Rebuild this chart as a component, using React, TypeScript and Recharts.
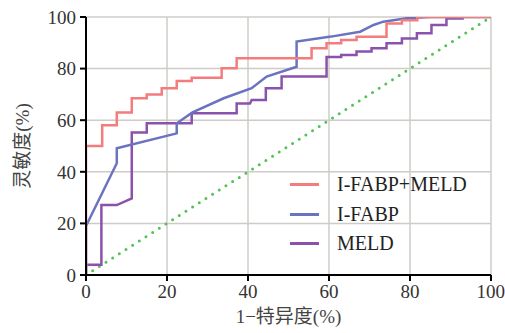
import { CartesianGrid, Legend, Line, LineChart, XAxis, YAxis } from "recharts";

type Pt = { x: number; y: number };

// ROC curve points (1-specificity %, sensitivity %)
const combinedRoc: Pt[] = [
  { x: 0, y: 0 }, { x: 0, y: 50 }, { x: 4, y: 50 }, { x: 4, y: 58 },
  { x: 7.6, y: 58 }, { x: 7.6, y: 63 }, { x: 11.3, y: 63 }, { x: 11.3, y: 68.5 },
  { x: 15, y: 68.5 }, { x: 15, y: 70 }, { x: 18.7, y: 70 }, { x: 18.7, y: 72.4 },
  { x: 22.4, y: 72.4 }, { x: 22.4, y: 75.2 }, { x: 26.1, y: 75.2 }, { x: 26.1, y: 76.5 },
  { x: 33.5, y: 76.5 }, { x: 33.5, y: 80.1 }, { x: 37.2, y: 80.1 }, { x: 37.2, y: 84 },
  { x: 55.7, y: 84 }, { x: 55.7, y: 87.9 }, { x: 59.4, y: 87.9 }, { x: 59.4, y: 89.8 },
  { x: 63, y: 89.8 }, { x: 63, y: 91.1 }, { x: 66.8, y: 91.1 }, { x: 66.8, y: 92.3 },
  { x: 74.2, y: 92.3 }, { x: 74.2, y: 97.5 }, { x: 78, y: 97.5 }, { x: 78, y: 98.7 },
  { x: 81.8, y: 98.7 }, { x: 81.8, y: 100 }, { x: 100, y: 100 },
];

const ifabpRoc: Pt[] = [
  { x: 0, y: 0 }, { x: 0, y: 19 }, { x: 7.6, y: 43.3 }, { x: 7.6, y: 49.1 },
  { x: 22.4, y: 54.9 }, { x: 22.4, y: 58.8 }, { x: 26.3, y: 63 }, { x: 34, y: 68.5 },
  { x: 40.9, y: 72.4 }, { x: 44.6, y: 76.9 }, { x: 52, y: 80.7 }, { x: 52, y: 90.5 },
  { x: 60.5, y: 92.4 }, { x: 67.7, y: 94.3 }, { x: 71, y: 96.9 }, { x: 73.4, y: 98.2 },
  { x: 79.2, y: 99.5 }, { x: 85, y: 100 }, { x: 100, y: 100 },
];

const meldRoc: Pt[] = [
  { x: 0, y: 0 }, { x: 0, y: 4 }, { x: 3.8, y: 4 }, { x: 3.8, y: 27.1 },
  { x: 7.6, y: 27.1 }, { x: 11.3, y: 29.7 }, { x: 11.3, y: 55.2 }, { x: 15, y: 55.2 },
  { x: 15, y: 58.8 }, { x: 26.1, y: 58.8 }, { x: 26.1, y: 62.7 }, { x: 37.2, y: 62.7 },
  { x: 37.2, y: 66.5 }, { x: 40.5, y: 66.5 }, { x: 40.9, y: 67.8 }, { x: 44.4, y: 67.8 },
  { x: 44.4, y: 72.4 }, { x: 48.3, y: 72.4 }, { x: 48.3, y: 76.9 }, { x: 59.4, y: 76.9 },
  { x: 59.4, y: 84.5 }, { x: 63, y: 84.5 }, { x: 63, y: 85.3 }, { x: 66.8, y: 85.3 },
  { x: 66.8, y: 86.6 }, { x: 70.5, y: 86.6 }, { x: 70.5, y: 87.9 }, { x: 74.2, y: 87.9 },
  { x: 74.2, y: 89.8 }, { x: 78, y: 89.8 }, { x: 78, y: 91.7 }, { x: 81.7, y: 91.7 },
  { x: 81.7, y: 93.7 }, { x: 85.3, y: 93.7 }, { x: 85.3, y: 96.9 }, { x: 89, y: 96.9 },
  { x: 89, y: 99.4 }, { x: 93.3, y: 99.4 },
];

const chanceLine: Pt[] = [{ x: 0, y: 0 }, { x: 100, y: 100 }];

const axisTicks = [0, 20, 40, 60, 80, 100];
const legendOrder = ["I-FABP+MELD", "I-FABP", "MELD"];

const serif = '"Liberation Serif", "Noto Sans CJK SC", serif';

const renderLegend = (props: any) => {
  const items = (props.payload ?? [])
    .filter((p: any) => legendOrder.includes(p.value))
    .sort((a: any, b: any) => legendOrder.indexOf(a.value) - legendOrder.indexOf(b.value));
  return (
    <div style={{ fontFamily: serif, fontSize: 20, color: "#222" }}>
      {items.map((item: any) => (
        <div key={item.value} style={{ display: "flex", alignItems: "center", height: 29.5 }}>
          <span style={{ display: "inline-block", width: 29, height: 3, background: item.color, marginRight: 18 }} />
          <span>{item.value}</span>
        </div>
      ))}
    </div>
  );
};

const YLabel = ({ viewBox }: any) => {
  const cx = 22;
  const cy = viewBox.y + viewBox.height / 2;
  return (
    <text x={cx} y={cy} transform={`rotate(-90, ${cx}, ${cy})`} textAnchor="middle" dominantBaseline="central"
      fontFamily={serif} fontSize={19} fill="#444">
      灵敏度(%)
    </text>
  );
};

const XLabel = ({ viewBox }: any) => {
  const cx = viewBox.x + viewBox.width / 2;
  return (
    <text x={cx} y={323} textAnchor="middle" fontFamily={serif} fontSize={19} fill="#444">
      1−特异度(%)
    </text>
  );
};

const App = () => (
  <div style={{ position: "absolute", left: 0, top: 0, background: "#fff" }}>
    <LineChart width={505} height={333} data={combinedRoc} margin={{ top: 17, right: 14, bottom: 0, left: 0 }}>
      <CartesianGrid stroke="#cfccc8" strokeWidth={1.5} fill="none" />
      <XAxis
        type="number"
        dataKey="x"
        domain={[0, 100]}
        ticks={axisTicks}
        height={58}
        axisLine={{ stroke: "#000", strokeWidth: 2 }}
        tickLine={{ stroke: "#000", strokeWidth: 2 }}
        tickSize={6}
        tickMargin={4}
        tick={{ fill: "#333", fontSize: 19, fontFamily: serif }}
        label={<XLabel />}
        allowDataOverflow
      />
      <YAxis
        type="number"
        dataKey="y"
        domain={[0, 100]}
        ticks={axisTicks}
        width={86}
        axisLine={{ stroke: "#000", strokeWidth: 2 }}
        tickLine={{ stroke: "#000", strokeWidth: 2 }}
        tickSize={6}
        tickMargin={4}
        tick={{ fill: "#333", fontSize: 19, fontFamily: serif }}
        label={<YLabel />}
        allowDataOverflow
      />
      <Legend
        layout="horizontal"
        verticalAlign="middle"
        align="center"
        content={renderLegend}
        wrapperStyle={{ left: 290, top: 170, width: 200 }}
      />
      <Line data={chanceLine} dataKey="y" name="chance" legendType="none" stroke="#52c252" strokeWidth={3}
        strokeDasharray="0 7.9" strokeLinecap="round" dot={false} isAnimationActive={false} />
      <Line data={meldRoc} dataKey="y" name="MELD" stroke="#8b52ad" strokeWidth={2.5}
        dot={false} isAnimationActive={false} type="linear" />
      <Line data={ifabpRoc} dataKey="y" name="I-FABP" stroke="#6b73c1" strokeWidth={2.5}
        dot={false} isAnimationActive={false} type="linear" />
      <Line data={combinedRoc} dataKey="y" name="I-FABP+MELD" stroke="#f47c7c" strokeWidth={2.5}
        dot={false} isAnimationActive={false} type="linear" />
    </LineChart>
  </div>
);

export default App;
